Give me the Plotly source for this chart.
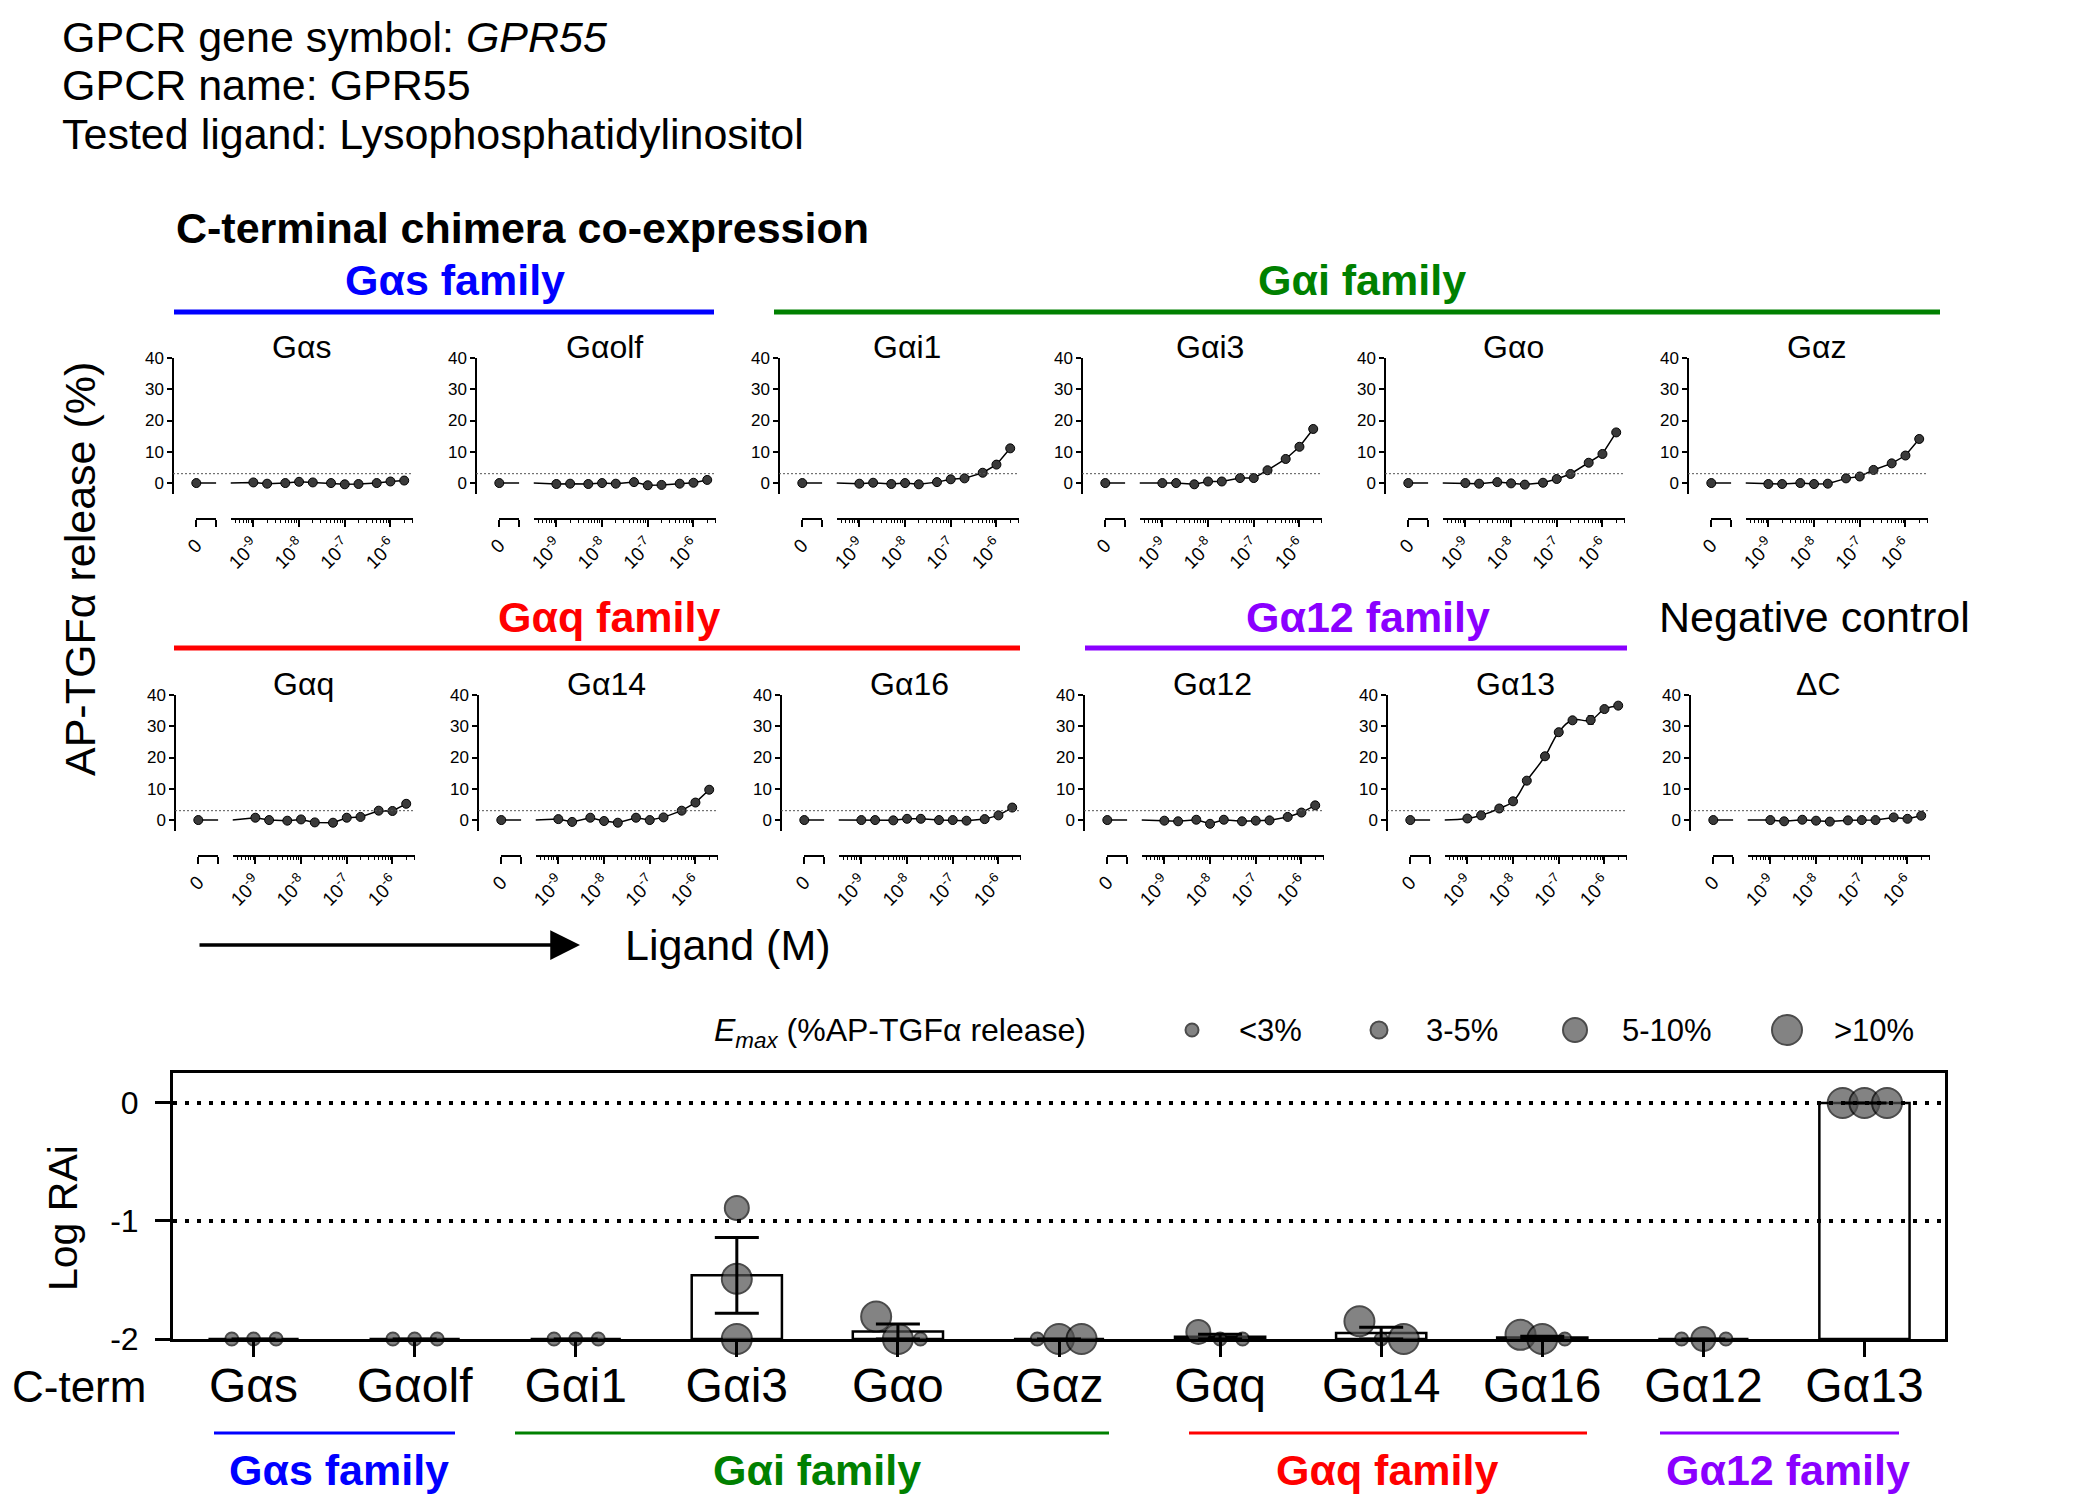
import numpy as np
import plotly.graph_objects as go

W, H = 2100, 1509          # target picture size
PAD = 8                    # browser body margin
FW, FH = W - 2 * PAD, H - 2 * PAD
FONT = "Liberation Sans, Arial, Helvetica, sans-serif"

# ---------------- header text ----------------
header_lines = ["GPCR gene symbol: <i>GPR55</i>",
                "GPCR name: GPR55",
                "Tested ligand: Lysophosphatidylinositol"]

# ---------------- dose-response panels ----------------
panel_names = ["Gαs", "Gαolf", "Gαi1", "Gαi3", "Gαo", "Gαz",
               "Gαq", "Gα14", "Gα16", "Gα12", "Gα13", "ΔC"]
conc = [1e-9, 2e-9, 5e-9, 1e-8, 2e-8, 5e-8, 1e-7, 2e-7, 5e-7, 1e-6, 2e-6]
decade_ticks = [1e-9, 1e-8, 1e-7, 1e-6]
zero_dose = [0.0, 0.0, 0.0, 0.0, 0.0, 0.0, 0.0, 0.0, 0.0, 0.0, 0.0, 0.0]

resp_gas = [0.2, -0.2, 0.0, 0.4, 0.2, 0.0, -0.4, -0.3, 0.0, 0.5, 0.8]
resp_gaolf = [-0.3, -0.2, -0.3, 0.0, -0.2, 0.3, -0.7, -0.6, -0.2, 0.1, 1.0]
resp_gai1 = [-0.2, 0.1, -0.3, 0.0, -0.4, 0.3, 1.2, 1.5, 3.3, 5.9, 11.1]
resp_gai3 = [0.0, 0.0, -0.4, 0.5, 0.5, 1.6, 1.6, 4.1, 7.7, 11.6, 17.3]
resp_gao = [0.0, -0.2, 0.3, -0.1, -0.5, 0.1, 1.3, 2.9, 6.5, 9.3, 16.2]
resp_gaz = [-0.3, -0.3, 0.0, -0.3, -0.2, 1.5, 2.1, 4.2, 6.3, 8.8, 14.1]
resp_gaq = [0.75, 0.0, -0.2, 0.2, -0.75, -0.85, 0.75, 1.0, 3.0, 2.9, 5.2]
resp_ga14 = [0.3, -0.6, 0.75, -0.3, -0.85, 0.75, 0.0, 0.85, 3.0, 5.6, 9.7]
resp_ga16 = [0.0, 0.0, -0.1, 0.4, 0.4, 0.0, 0.0, -0.2, 0.3, 1.5, 4.0]
resp_ga12 = [-0.2, -0.4, 0.1, -1.2, 0.1, -0.4, -0.2, -0.1, 1.0, 2.4, 4.7]
resp_ga13 = [0.5, 1.5, 3.7, 6.0, 12.6, 20.4, 28.1, 31.9, 32.0, 35.5, 36.6]
resp_dc = [0.0, -0.4, 0.1, -0.2, -0.5, -0.1, 0.0, 0.0, 0.85, 0.4, 1.4]

err_gao = [0, 0, 0.8, 0, 0, 0, 0, 0, 0, 0, 0]
err_ga13 = [0, 0, 0, 0, 0, 0, 0, 0, 1.3, 0, 0]

panel_resp = [resp_gas, resp_gaolf, resp_gai1, resp_gai3, resp_gao, resp_gaz,
              resp_gaq, resp_ga14, resp_ga16, resp_ga12, resp_ga13, resp_dc]
panel_err = {"Gαo": err_gao, "Gα13": err_ga13}
smooth_fit = {"Gα13"}
threshold = 3

# ---------------- Log RAi summary ----------------
cterm = ["Gαs", "Gαolf", "Gαi1", "Gαi3", "Gαo", "Gαz",
         "Gαq", "Gα14", "Gα16", "Gα12", "Gα13"]
lograi_rep1 = [-2, -2, -2, -0.89, -1.81, -2, -1.94, -1.85, -1.965, -2, 0]
lograi_rep2 = [-2, -2, -2, -1.49, -2, -2, -2, -2, -2, -2, 0]
lograi_rep3 = [-2, -2, -2, -2.0, -2, -2, -2, -2, -2, -2, 0]
emax_rep1 = [0, 0, 0, 2, 3, 0, 2, 3, 3, 0, 3]
emax_rep2 = [0, 0, 0, 3, 3, 3, 0, 0, 3, 2, 3]
emax_rep3 = [0, 0, 0, 3, 0, 3, 0, 3, 0, 0, 3]
emax_labels = ["&lt;3%", "3-5%", "5-10%", "&gt;10%"]

# ---------------- styling ----------------
EMAX_SIZES = [13, 17, 24, 30]
LEGEND_PX = [1192, 1379, 1575, 1787]      # legend item centres (layout)
JITTER = [-0.135, 0.0, 0.14]
NO_JITTER = {"Gαi3"}
BLUE, GREEN, RED, PURPLE = "#0000ff", "#008000", "#ff0000", "#8a00ff"


def fx(px):
    return (px - PAD) / FW


def fy(py):
    return 1 - (py - PAD) / FH


def ref(prefix, i):
    return prefix if i == 1 else f"{prefix}{i}"


def key(prefix, i):
    return prefix + "axis" + ("" if i == 1 else str(i))


fig = go.Figure()
layout = dict(width=FW, height=FH, margin=dict(l=0, r=0, t=0, b=0, pad=0, autoexpand=False),
              paper_bgcolor="white", plot_bgcolor="rgba(0,0,0,0)",
              showlegend=False, font=dict(family=FONT, color="black"))
annotations = []
shapes = []

log_lo, log_hi = -9.5, -5.5
minor_vals = [m * 10.0 ** e for e in range(-10, -5) for m in range(2, 10)
              if 10 ** log_lo <= m * 10.0 ** e <= 10 ** log_hi]
decade_text = [f"10<sup>{int(round(np.log10(v)))}</sup>" for v in decade_ticks]

for k, name in enumerate(panel_names):
    r, c = divmod(k, 6)
    y0 = 173 + 303 * c + 2 * r
    top, bot, xl = 358 + 337 * r, 494 + 337 * r, 519 + 337 * r
    iy, ia, ib = k + 1, 2 * k + 1, 2 * k + 2
    yr, xa, xb = ref("y", iy), ref("x", ia), ref("x", ib)
    yfont = dict(size=17, family=FONT)
    xfont = dict(size=19, family=FONT)
    layout[key("y", iy)] = dict(domain=[fy(bot), fy(top)], range=[-3.5, 40], anchor="free",
                                position=fx(y0), showline=True, linewidth=1.5, linecolor="black",
                                ticks="outside", ticklen=5, tickwidth=1.5, tickcolor="black",
                                tickvals=[0, 10, 20, 30, 40], tickfont=yfont,
                                showgrid=False, zeroline=False, automargin=False)
    layout[key("x", ia)] = dict(domain=[fx(y0 + 23.3), fx(y0 + 43.3)], range=[0, 1], anchor="free",
                                position=fy(xl), showline=True, linewidth=1.5, linecolor="black",
                                ticks="outside", ticklen=7, tickwidth=1.5, tickcolor="black",
                                tickvals=[0, 1], ticktext=["0", ""], tickangle=-45, tickfont=xfont,
                                showgrid=False, zeroline=False, automargin=False)
    layout[key("x", ib)] = dict(type="log", domain=[fx(y0 + 57.5), fx(y0 + 240.3)],
                                range=[log_lo, log_hi], anchor="free", position=fy(xl),
                                showline=True, linewidth=1.5, linecolor="black",
                                ticks="outside", ticklen=7, tickwidth=1.5, tickcolor="black",
                                tickvals=decade_ticks, ticktext=decade_text, tickangle=-45,
                                tickfont=xfont,
                                minor=dict(tickmode="array", tickvals=minor_vals, ticks="outside",
                                           ticklen=3.5, tickwidth=1, tickcolor="black", showgrid=False),
                                showgrid=False, zeroline=False, automargin=False)
    v0 = zero_dose[k]
    vals = panel_resp[k]
    mk = dict(size=9, color="#3a3a3a", line=dict(color="black", width=1))
    fig.add_trace(go.Scatter(x=[0, 1], y=[v0, v0], xaxis=xa, yaxis=yr, mode="lines",
                             line=dict(color="black", width=1.5), hoverinfo="skip"))
    fig.add_trace(go.Scatter(x=[0], y=[v0], xaxis=xa, yaxis=yr, mode="markers",
                             marker=mk, cliponaxis=False))
    fig.add_trace(go.Scatter(x=[10 ** log_lo] + conc, y=[v0] + vals, xaxis=xb, yaxis=yr,
                             mode="lines",
                             line=dict(color="black", width=1.5, smoothing=1.3,
                                       shape="spline" if name in smooth_fit else "linear"),
                             hoverinfo="skip"))
    err = panel_err.get(name)
    fig.add_trace(go.Scatter(x=conc, y=vals, xaxis=xb, yaxis=yr, mode="markers", marker=mk,
                             cliponaxis=False,
                             error_y=dict(type="data", array=err, visible=err is not None,
                                          color="black", thickness=1.2, width=3)))
    shapes.append(dict(type="line", xref="paper", yref=yr, x0=fx(y0), x1=fx(y0 + 240),
                       y0=threshold, y1=threshold,
                       line=dict(color="#555555", width=1, dash="2px,2px")))
    annotations.append(dict(text=name, x=fx(y0 + 128), y=fy(347 + 337 * r), xref="paper",
                            yref="paper", showarrow=False, xanchor="center", yanchor="middle",
                            font=dict(size=32)))

# ---------------- summary chart ----------------
IX, IY = 25, 13
xs, ys = ref("x", IX), ref("y", IY)
idx = np.arange(len(cterm))
reps = np.array([lograi_rep1, lograi_rep2, lograi_rep3], dtype=float)
means = reps.mean(axis=0)
sems = reps.std(axis=0, ddof=1) / np.sqrt(reps.shape[0])

layout[key("x", IX)] = dict(domain=[fx(173), fx(1945)], range=[-0.5, 10.5], anchor=ys,
                            tickvals=list(idx), ticktext=cterm, ticks="outside", ticklen=15,
                            tickwidth=3, tickcolor="black", showline=True, linewidth=3,
                            linecolor="black", mirror=True, tickfont=dict(size=48),
                            ticklabelstandoff=-13,
                            showgrid=False, zeroline=False, automargin=False)
layout[key("y", IY)] = dict(domain=[fy(1339), fy(1073)], range=[-2, 0.254], anchor=xs,
                            tickvals=[0, -1, -2], ticktext=["0", "-1", "-2"], ticks="outside",
                            ticklen=15, tickwidth=3, tickcolor="black", showline=True, linewidth=3,
                            linecolor="black", mirror=True, tickfont=dict(size=32),
                            ticklabelstandoff=10, showgrid=False, zeroline=False, automargin=False)

fig.add_trace(go.Bar(x=idx, y=means + 2, base=-2, width=0.56, xaxis=xs, yaxis=ys,
                     marker=dict(color="white", line=dict(color="black", width=2.5))))

emax_reps = [emax_rep1, emax_rep2, emax_rep3]
px_, py_, ps_ = [], [], []
for j in range(3):
    for i, name in enumerate(cterm):
        off = 0.0 if name in NO_JITTER else JITTER[j]
        px_.append(i + off)
        py_.append(reps[j, i])
        ps_.append(EMAX_SIZES[emax_reps[j][i]])
fig.add_trace(go.Scatter(x=px_, y=py_, xaxis=xs, yaxis=ys, mode="markers", cliponaxis=False,
                         marker=dict(size=ps_, color="#505050", line=dict(color="black", width=2))))
fig.add_trace(go.Scatter(x=idx, y=means, xaxis=xs, yaxis=ys, mode="markers",
                         marker=dict(size=1, color="rgba(0,0,0,0)"),
                         error_y=dict(type="data", array=sems, color="black", thickness=3, width=22)))
for yv in (0, -1):
    shapes.append(dict(type="line", xref=f"{xs} domain", yref=ys, x0=0, x1=1, y0=yv, y1=yv,
                       line=dict(color="black", width=4, dash="4px,8px"), layer="above"))

# legend for Emax sizes (its own hidden axes spanning the picture width in px)
LX, LY = 26, 14
layout[key("x", LX)] = dict(domain=[0, 1], range=[PAD, W - PAD], visible=False,
                            anchor=ref("y", LY))
layout[key("y", LY)] = dict(domain=[fy(1045), fy(1015)], range=[-1, 1], visible=False,
                            anchor=ref("x", LX))
fig.add_trace(go.Scatter(x=LEGEND_PX, y=[0] * len(LEGEND_PX), xaxis=ref("x", LX),
                         yaxis=ref("y", LY), mode="markers", cliponaxis=False,
                         marker=dict(size=EMAX_SIZES, color="#505050",
                                     line=dict(color="black", width=2))))
for xpos, lab in zip(LEGEND_PX, emax_labels):
    annotations.append(dict(text=lab, x=xpos, y=0, xref=ref("x", LX), yref=ref("y", LY),
                            xshift=45, xanchor="left", yanchor="middle", showarrow=False,
                            font=dict(size=31)))
annotations.append(dict(text="<i>E<sub>max</sub></i> (%AP-TGFα release)", x=fx(712), y=fy(1032),
                        xref="paper", yref="paper", xanchor="left", yanchor="middle",
                        showarrow=False, font=dict(size=32)))

# ---------------- texts ----------------
for i, t in enumerate(header_lines):
    annotations.append(dict(text=t, x=fx(60), y=fy(37 + 48.5 * i), xref="paper", yref="paper",
                            xanchor="left", yanchor="middle", showarrow=False, font=dict(size=43)))
annotations.append(dict(text="<b>C-terminal chimera co-expression</b>", x=fx(174), y=fy(228),
                        xref="paper", yref="paper", xanchor="left", yanchor="middle",
                        showarrow=False, font=dict(size=43)))

top_families = [("Gαs family", BLUE, 174, 714, 455, 280, 312),
                ("Gαi family", GREEN, 774, 1940, 1362, 280, 312),
                ("Gαq family", RED, 174, 1020, 609, 617, 648),
                ("Gα12 family", PURPLE, 1085, 1627, 1368, 617, 648)]
for lab, col, xa0, xa1, xc, ty, ly in top_families:
    annotations.append(dict(text=f"<b>{lab}</b>", x=fx(xc), y=fy(ty), xref="paper", yref="paper",
                            xanchor="center", yanchor="middle", showarrow=False,
                            font=dict(size=43, color=col)))
    shapes.append(dict(type="line", xref="paper", yref="paper", x0=fx(xa0), x1=fx(xa1),
                       y0=fy(ly), y1=fy(ly), line=dict(color=col, width=5)))
annotations.append(dict(text="Negative control", x=fx(1814), y=fy(617), xref="paper", yref="paper",
                        xanchor="center", yanchor="middle", showarrow=False, font=dict(size=43)))

annotations.append(dict(text="AP-TGFα release (%)", x=fx(80), y=fy(569), xref="paper",
                        yref="paper", textangle=-90, xanchor="center", yanchor="middle",
                        showarrow=False, font=dict(size=43)))
annotations.append(dict(text="", x=fx(580), y=fy(945), xref="paper", yref="paper",
                        ax=-382, ay=0, axref="pixel", ayref="pixel", showarrow=True,
                        arrowhead=2, arrowsize=1.7, arrowwidth=3.5, arrowcolor="black"))
annotations.append(dict(text="Ligand (M)", x=fx(623), y=fy(945), xref="paper", yref="paper",
                        xanchor="left", yanchor="middle", showarrow=False, font=dict(size=43)))

annotations.append(dict(text="Log RAi", x=fx(63), y=fy(1218), xref="paper", yref="paper",
                        textangle=-90, xanchor="center", yanchor="middle", showarrow=False,
                        font=dict(size=41)))
annotations.append(dict(text="C-term", x=fx(79), y=fy(1386), xref="paper", yref="paper",
                        xanchor="center", yanchor="middle", showarrow=False, font=dict(size=44)))

bottom_families = [("Gαs family", BLUE, 214, 455, 339),
                   ("Gαi family", GREEN, 515, 1109, 817),
                   ("Gαq family", RED, 1189, 1587, 1387),
                   ("Gα12 family", PURPLE, 1660, 1899, 1788)]
for lab, col, xa0, xa1, xc in bottom_families:
    shapes.append(dict(type="line", xref="paper", yref="paper", x0=fx(xa0), x1=fx(xa1),
                       y0=fy(1433), y1=fy(1433), line=dict(color=col, width=3)))
    annotations.append(dict(text=f"<b>{lab}</b>", x=fx(xc), y=fy(1470), xref="paper",
                            yref="paper", xanchor="center", yanchor="middle", showarrow=False,
                            font=dict(size=43, color=col)))

layout["annotations"] = annotations
layout["shapes"] = shapes
fig.update_layout(**layout)
fig.write_html("out.html")
